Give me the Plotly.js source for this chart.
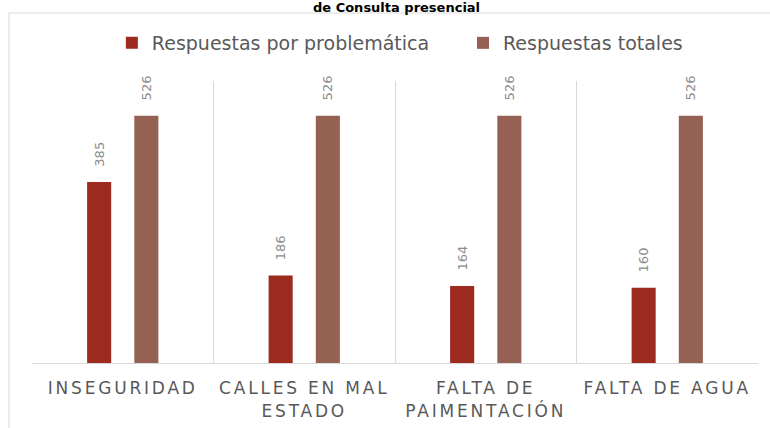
<!DOCTYPE html>
<html>
<head>
<meta charset="utf-8">
<script src="https://cdn.plot.ly/plotly-3.0.1.min.js"></script>
<style>
  html, body { margin: 0; padding: 0; background: #ffffff; }
  #chart { width: 770px; height: 428px; }
  .xtick text { letter-spacing: 2.8px; }
</style>
</head>
<body>
<div id="chart"></div>
<script>
const categories = ["INSEGURIDAD", "CALLES EN MAL<br>ESTADO", "FALTA DE<br>PAIMENTACIÓN", "FALTA DE AGUA"];
const seriesNames = ["Respuestas por problemática", "Respuestas totales"];
const respuestasProblematica = [385, 186, 164, 160];
const respuestasTotales = [526, 526, 526, 526];
const titleText = "de Consulta presencial";

const colors = ["#9c2a1e", "#956152"];
const labelFont = { family: "DejaVu Sans", size: 13, color: "#8c8c8c" };
const legendFont = { family: "DejaVu Sans", size: 19, color: "#595959" };

function barTrace(name, values, color, legendId) {
  return {
    type: "bar",
    name: name,
    legend: legendId,
    x: categories,
    y: values,
    marker: { color: color },
    text: values.map(v => String(v)),
    texttemplate: "\u00a0\u00a0\u00a0%{text}",
    textposition: "outside",
    textangle: -90,
    constraintext: "none",
    textfont: labelFont,
    cliponaxis: false,
    hoverinfo: "skip"
  };
}

const data = [
  barTrace(seriesNames[0], respuestasProblematica, colors[0], "legend"),
  barTrace(seriesNames[1], respuestasTotales, colors[1], "legend2")
];

const layout = {
  width: 770,
  height: 428,
  margin: { l: 32, r: 12, t: 81, b: 65 },
  paper_bgcolor: "#ffffff",
  plot_bgcolor: "#ffffff",
  barmode: "group",
  bargap: 0.48,
  bargroupgap: 0.49,
  showlegend: true,
  title: {
    text: "<b>" + titleText + "</b>",
    font: { family: "DejaVu Sans", size: 13, color: "#000000" },
    x: 0.515,
    xanchor: "center",
    yref: "container",
    y: 0.983,
    yanchor: "middle",
    pad: { t: 0, b: 0 }
  },
  legend: {
    orientation: "h",
    x: 0.110,
    xanchor: "left",
    y: 1.1348,
    yanchor: "middle",
    font: legendFont,
    bgcolor: "rgba(0,0,0,0)"
  },
  legend2: {
    orientation: "h",
    x: 0.5937,
    xanchor: "left",
    y: 1.1348,
    yanchor: "middle",
    font: legendFont,
    bgcolor: "rgba(0,0,0,0)"
  },
  xaxis: {
    type: "category",
    tickson: "boundaries",
    showgrid: true,
    gridcolor: "#d9d9d9",
    gridwidth: 1,
    showline: true,
    linecolor: "#d9d9d9",
    linewidth: 1,
    mirror: false,
    ticks: "",
    ticklabelstandoff: 10,
    tickfont: { family: "DejaVu Sans", size: 17, color: "#595959" },
    fixedrange: true
  },
  yaxis: {
    range: [0, 600],
    visible: false,
    showgrid: false,
    zeroline: false,
    fixedrange: true
  },
  shapes: [
    { type: "line", xref: "paper", yref: "paper", x0: -0.0317, x1: -0.0317, y0: 1.241, y1: -0.25,
      line: { color: "#d9d9d9", width: 1 } },
    { type: "line", xref: "paper", yref: "paper", x0: -0.0317, x1: 1.03, y0: 1.241, y1: 1.241,
      line: { color: "#d9d9d9", width: 1 } }
  ]
};

Plotly.newPlot("chart", data, layout, { displayModeBar: false, staticPlot: true });
</script>
</body>
</html>
